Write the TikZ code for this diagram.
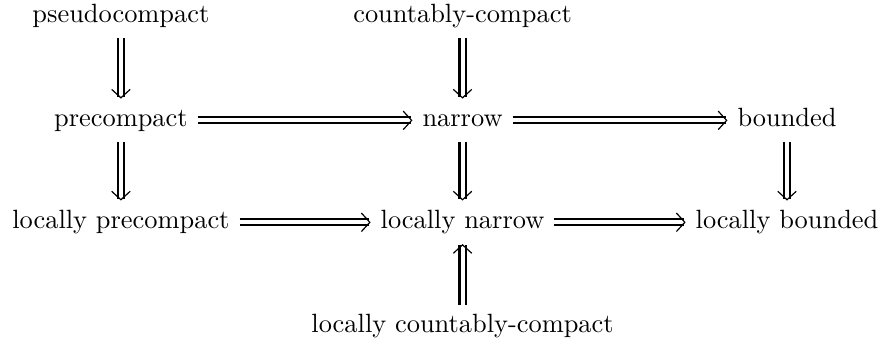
\documentclass[tikz,border=0pt]{standalone}
\usetikzlibrary{arrows.meta}

\tikzset{
  obj/.style={anchor=base, text height=6.94pt, text depth=1.94pt, inner sep=3.6pt},
  impl/.style={double, double distance=1.5pt, line width=0.8pt,
    -{Straight Barb[length=3.2pt,width=7pt,line width=0.45pt]}},
}

\begin{document}
\begin{tikzpicture}[x=1pt,y=1pt]
    \useasboundingbox (0,0) rectangle (333.7,-131);

    % Les notions (trois colonnes, quatre lignes)
    \node[obj] (pseudo) at (45.8,-8.7) {pseudocompact};
    \node[obj] (cc) at (175.2,-8.7) {countably-compact};
    \node[obj] (pre) at (45.8,-48.1) {precompact};
    \node[obj] (nar) at (175.2,-48.1) {narrow};
    \node[obj] (bnd) at (298.1,-48.1) {bounded};
    \node[obj] (lpre) at (45.8,-86.7) {locally precompact};
    \node[obj] (lnar) at (175.2,-86.7) {locally narrow};
    \node[obj] (lbnd) at (298.1,-86.7) {locally bounded};
    \node[obj] (lcc) at (175.2,-126.1) {locally countably-compact};

    % Les implications
    \draw[impl] (pseudo) -- (pre);
    \draw[impl] (cc) -- (nar);
    \draw[impl] (pre) -- (nar);
    \draw[impl] (nar) -- (bnd);
    \draw[impl] (pre) -- (lpre);
    \draw[impl] (nar) -- (lnar);
    \draw[impl] (bnd) -- (lbnd);
    \draw[impl] (lpre) -- (lnar);
    \draw[impl] (lnar) -- (lbnd);
    \draw[impl] (lcc) -- (lnar);
\end{tikzpicture}
\end{document}
